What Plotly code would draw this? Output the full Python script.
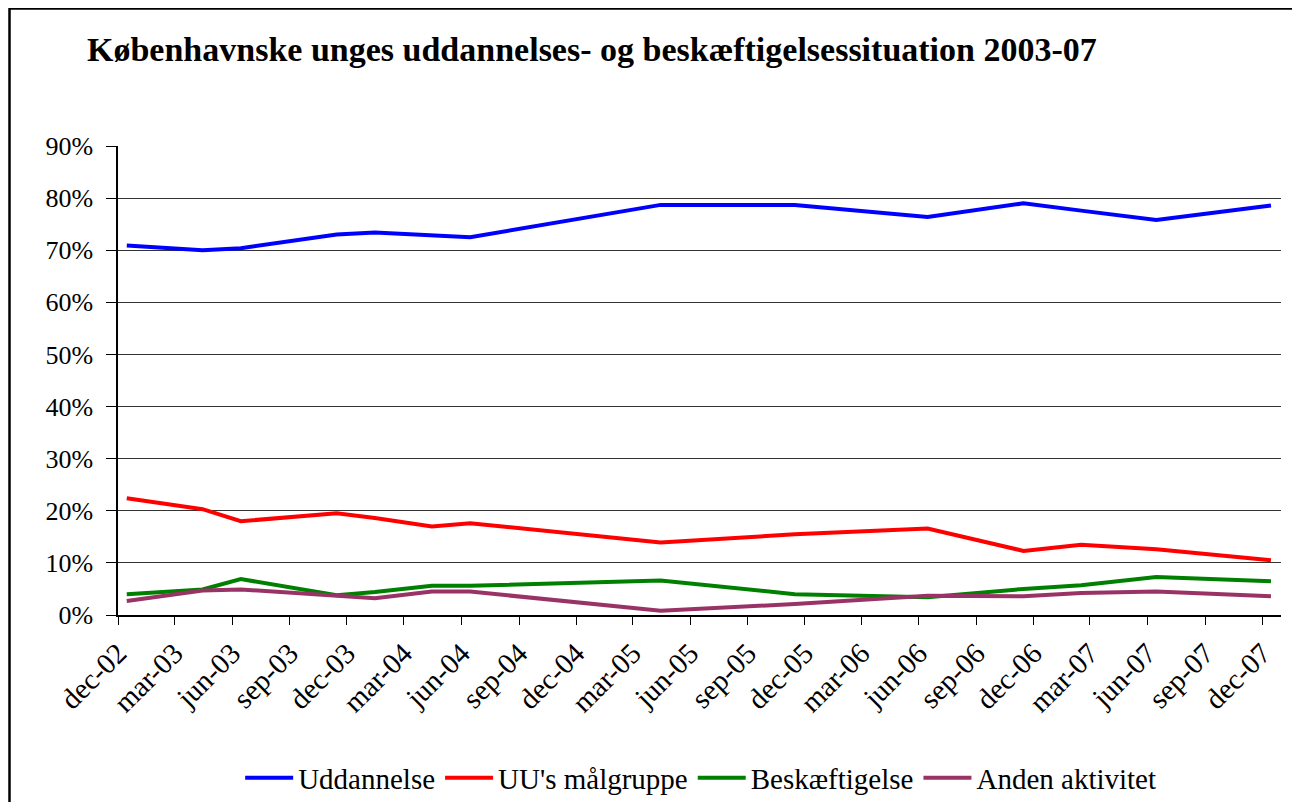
import plotly.graph_objects as go

dates = ["2002-12-15", "2003-04-15", "2003-06-15", "2003-11-15", "2004-01-15",
         "2004-04-15", "2004-06-15", "2005-04-15", "2005-11-15", "2006-06-15",
         "2006-11-15", "2007-02-15", "2007-06-15", "2007-12-15"]

uddannelse = [70.9, 70.0, 70.4, 73.0, 73.4, 72.9, 72.5, 78.7, 78.7, 76.4, 79.0, 77.6, 75.8, 78.6]
uu_maalgruppe = [22.4, 20.3, 18.0, 19.5, 18.6, 17.0, 17.6, 13.9, 15.5, 16.6, 12.3, 13.5, 12.6, 10.5]
beskaeftigelse = [4.0, 4.9, 6.9, 3.8, 4.4, 5.6, 5.6, 6.6, 4.0, 3.4, 5.0, 5.7, 7.3, 6.5]
anden_aktivitet = [2.7, 4.7, 4.9, 3.6, 3.2, 4.5, 4.5, 0.8, 2.1, 3.7, 3.6, 4.2, 4.5, 3.6]

series_names = ["Uddannelse", "UU's målgruppe", "Beskæftigelse", "Anden aktivitet"]
series_colors = ["#0000FF", "#FF0000", "#008000", "#993366"]

tick_dates = ["2002-12-01", "2003-03-01", "2003-06-01", "2003-09-01", "2003-12-01",
              "2004-03-01", "2004-06-01", "2004-09-01", "2004-12-01", "2005-03-01",
              "2005-06-01", "2005-09-01", "2005-12-01", "2006-03-01", "2006-06-01",
              "2006-09-01", "2006-12-01", "2007-03-01", "2007-06-01", "2007-09-01",
              "2007-12-01"]
tick_labels = ["dec-02", "mar-03", "jun-03", "sep-03", "dec-03", "mar-04", "jun-04",
               "sep-04", "dec-04", "mar-05", "jun-05", "sep-05", "dec-05", "mar-06",
               "jun-06", "sep-06", "dec-06", "mar-07", "jun-07", "sep-07", "dec-07"]

title_text = "Københavnske unges uddannelses- og beskæftigelsessituation 2003-07"

FONT = "Liberation Serif"

# page body has an 8px offset; figure coordinates compensate for it
OFF = 8
L, T = 118 - OFF, 146 - OFF
PW, PH = 1163, 469
W, H = 1300, 802

fig = go.Figure()
for name, vals, col in zip(series_names,
                           [uddannelse, uu_maalgruppe, beskaeftigelse, anden_aktivitet],
                           series_colors):
    fig.add_trace(go.Scatter(x=dates, y=vals, name=name, mode="lines",
                             line=dict(color=col, width=4)))

fig.update_layout(
    width=W, height=H,
    margin=dict(l=L, r=W - L - PW, t=T, b=H - T - PH, autoexpand=False),
    paper_bgcolor="white", plot_bgcolor="white",
    font=dict(family=FONT, color="black", size=26),
    title=dict(text="<b>" + title_text + "</b>", x=(87 - OFF) / W, xanchor="left",
               xref="container", yref="container", y=1 - (49 - OFF) / H, yanchor="middle",
               font=dict(family=FONT, size=34, color="black")),
    showlegend=True,
    legend=dict(orientation="h", x=0.501, xanchor="center",
                y=(615 - 778) / PH, yanchor="middle",
                font=dict(family=FONT, size=29, color="black"),
                itemwidth=48, tracegroupgap=0, bgcolor="rgba(0,0,0,0)"),
    xaxis=dict(type="date", range=["2002-12-01", "2007-12-31"], automargin=False,
               tickvals=tick_dates, ticktext=tick_labels, tickangle=-45,
               showgrid=False, showline=True, linecolor="black", linewidth=1.5,
               ticks="outside", ticklen=8, tickcolor="black", tickwidth=1,
               tickfont=dict(family=FONT, size=29, color="black"), zeroline=False),
    yaxis=dict(range=[0, 90], dtick=10, tick0=0, ticksuffix="%", automargin=False,
               showgrid=True, gridcolor="#333333", gridwidth=1,
               showline=True, linecolor="black", linewidth=1.5,
               ticks="outside", ticklen=10, tickcolor="black", tickwidth=1,
               tickfont=dict(family=FONT, size=26, color="black"), zeroline=False,
               ticklabelstandoff=8),
    shapes=[dict(type="rect", xref="paper", yref="paper",
                 x0=(1.5 - L) / PW, x1=1.1, y0=-0.6, y1=(T + PH - 0.5) / PH,
                 line=dict(color="black", width=2.5), fillcolor="rgba(0,0,0,0)",
                 layer="below")],
)

fig.write_html("out.html")
